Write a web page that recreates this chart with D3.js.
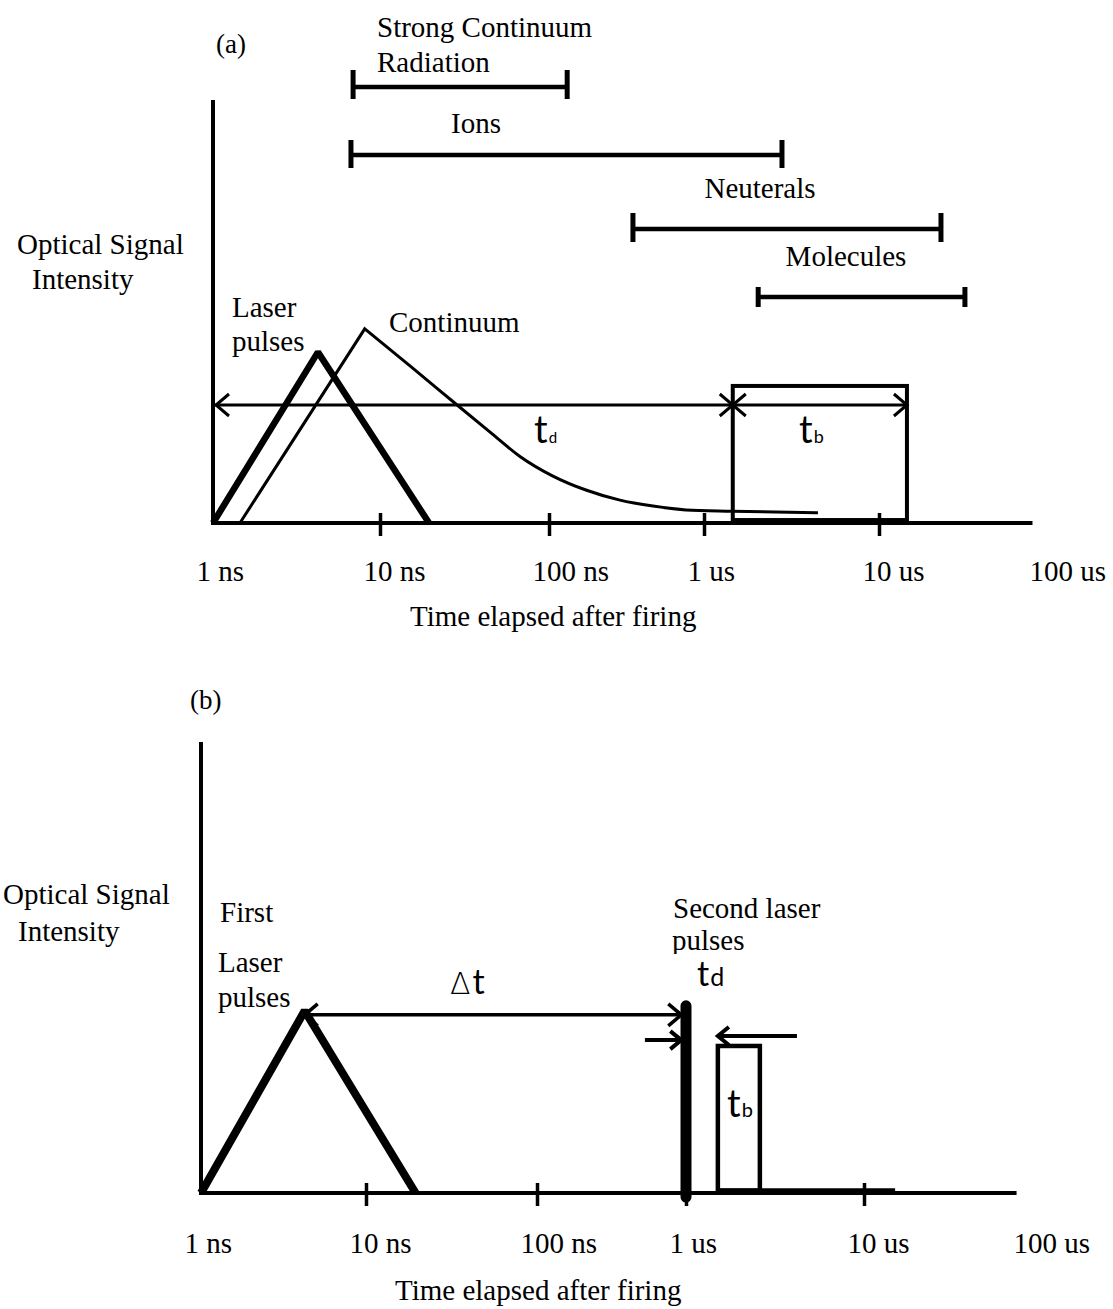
<!DOCTYPE html>
<html>
<head>
<meta charset="utf-8">
<script src="https://cdn.jsdelivr.net/npm/d3@7"></script>
<style>
  html, body { margin: 0; padding: 0; background: #fff; }
  svg { display: block; }
  text { font-family: "Liberation Serif", "Times New Roman", serif; fill: #000; }
  .sym { font-family: Lato, "Open Sans", sans-serif; }
</style>
</head>
<body>
<svg id="chart" width="1113" height="1309"></svg>
<script>
// Times are in nanoseconds; signal levels are relative (0 = baseline, 100 = top of the intensity axis).
const tickTimes = [1, 10, 100, 1000, 10000, 100000];
const tickLabels = ["1 ns", "10 ns", "100 ns", "1 us", "10 us", "100 us"];
const markedTicks = [10, 100, 1000, 10000];
const axisEndTime = 83000;

// First laser pulse (triangle) – shared by both panels
const laserTime = [1, 4.25, 19.5];
const laserLevel = [0, 40.4, 0];

// Continuum emission: fast rise, long decaying tail
const continuumTime = [1.45, 8.1, 15.3, 28.6, 44.8, 67, 106, 173, 287, 469, 765, 1445, 4480];
const continuumLevel = [0, 45.9, 36.9, 27.9, 21.5, 15.8, 11.1, 7.8, 5.4, 4.0, 3.1, 2.8, 2.4];

// Emission regimes (start / end time)
const regimeNames = [["Strong Continuum", "Radiation"], ["Ions"], ["Neuterals"], ["Molecules"]];
const regimeStart = [6.9, 6.7, 348, 2040];
const regimeEnd = [131, 2790, 23500, 32700];

// Panel (a): delay td and gate tb
const delayA = [1, 1460];
const gateA = [1460, 14700];
const gateLevelA = 32.4;
const arrowLevelA = 27.9;

// Panel (b): double-pulse scheme
const deltaT = [4.25, 930];
const deltaLevel = 39.5;
const secondPulseTime = 1000;
const secondPulseLevel = 41.5;
const tdInArrow = [530, 930];
const tdInLevel = 33.9;
const tdOutArrow = [4200, 1510];
const tdOutLevel = 34.8;
const gateB = [1510, 2600];
const gateLevelB = 32.6;
const residualB = [1510, 15400];

const svg = d3.select("#chart");
const INK = "#000";
const FS = 29;

function chevron(g, x, y, dir, w = 3, len = 13, half = 11) {
  g.append("path")
    .attr("d", `M${x - dir * len},${y - half}L${x},${y}L${x - dir * len},${y + half}`)
    .attr("fill", "none").attr("stroke", INK).attr("stroke-width", w);
}

function label(g, x, y, txt, size = FS, anchor = "start") {
  return g.append("text").attr("x", x).attr("y", y)
    .attr("font-size", size).attr("text-anchor", anchor).text(txt);
}

// "t" with a small subscript letter
function tLabel(g, x, y, sub, tSize, subSize) {
  const t = g.append("text").attr("class", "sym").attr("x", x).attr("y", y);
  t.append("tspan").attr("font-size", tSize).text("t");
  t.append("tspan").attr("font-size", subSize).attr("dx", 1).text(sub);
  return t;
}

function drawTimeAxis(g, x, y, axisY, labelPad, titleX, titleY) {
  // baseline
  g.append("line")
    .attr("x1", x(1)).attr("x2", x(axisEndTime))
    .attr("y1", axisY).attr("y2", axisY)
    .attr("stroke", INK).attr("stroke-width", 4);
  // intensity axis
  g.append("line")
    .attr("x1", x(1)).attr("x2", x(1))
    .attr("y1", y(0) + 2).attr("y2", y(100))
    .attr("stroke", INK).attr("stroke-width", 4);

  // tick marks
  const ticks = g.append("g").attr("transform", `translate(0,${axisY})`)
    .call(d3.axisBottom(x).tickValues(markedTicks).tickSize(13).tickFormat(""));
  ticks.select(".domain").remove();
  ticks.selectAll(".tick line").attr("y1", -10).attr("stroke", INK).attr("stroke-width", 3.5);

  // tick labels
  const labs = g.append("g").attr("transform", `translate(0,${axisY})`)
    .call(d3.axisBottom(x).tickValues(tickTimes).tickSize(0).tickPadding(labelPad)
      .tickFormat((d, i) => tickLabels[i]));
  labs.select(".domain").remove();
  labs.attr("font-family", null).attr("font-size", FS);
  labs.selectAll(".tick text").attr("text-anchor", "start").attr("dx", -17).attr("fill", INK);

  label(g, titleX, titleY, "Time elapsed after firing");
}

/* ---------------- Panel (a) ---------------- */
const gA = svg.append("g");
const xA = d3.scaleLog().domain(tickTimes).range([213, 380, 549, 704, 879, 1046]);
const yA = d3.scaleLinear().domain([0, 100]).range([523, 100]);
const lineA = d3.line().x(d => xA(d[0])).y(d => yA(d[1]));

drawTimeAxis(gA, xA, yA, yA(0), 37, 410, 626);

label(gA, 216, 53, "(a)", 27);
label(gA, 17, 254, "Optical Signal");
label(gA, 32, 289, "Intensity");

// emission regime bars
const regimeRows = [
  { y: 87, up: 17, down: 12, lx: 377, ly: 37, anchor: "start" },
  { y: 155, up: 15, down: 13, lx: 476, ly: 133, anchor: "middle" },
  { y: 229, up: 16, down: 13, lx: 760, ly: 198, anchor: "middle" },
  { y: 297, up: 10, down: 10, lx: 846, ly: 266, anchor: "middle" }
];
regimeNames.forEach((name, i) => {
  const r = regimeRows[i];
  const x0 = xA(regimeStart[i]), x1 = xA(regimeEnd[i]);
  gA.append("line").attr("x1", x0).attr("x2", x1).attr("y1", r.y).attr("y2", r.y)
    .attr("stroke", INK).attr("stroke-width", 4.5);
  [x0, x1].forEach(cx => {
    gA.append("line").attr("x1", cx).attr("x2", cx).attr("y1", r.y - r.up).attr("y2", r.y + r.down)
      .attr("stroke", INK).attr("stroke-width", 5);
  });
  name.forEach((part, k) => label(gA, r.lx, r.ly + k * 35, part, FS, r.anchor));
});

// continuum: straight rise, smooth decay
const contPts = d3.zip(continuumTime, continuumLevel);
const peakIdx = d3.maxIndex(continuumLevel);
const riseStr = lineA(contPts.slice(0, peakIdx + 1));
const decayStr = lineA.curve(d3.curveMonotoneX)(contPts.slice(peakIdx));
lineA.curve(d3.curveLinear);
gA.append("path").attr("d", riseStr + decayStr.replace(/^M/, "L"))
  .attr("fill", "none").attr("stroke", INK).attr("stroke-width", 3);

// laser pulse
gA.append("path").attr("d", lineA(d3.zip(laserTime, laserLevel)))
  .attr("fill", "none").attr("stroke", INK).attr("stroke-width", 6.5).attr("stroke-linejoin", "bevel");

label(gA, 232, 317, "Laser");
label(gA, 232, 351, "pulses");
label(gA, 389, 332, "Continuum");

// gate box
gA.append("rect")
  .attr("x", xA(gateA[0])).attr("y", yA(gateLevelA))
  .attr("width", xA(gateA[1]) - xA(gateA[0])).attr("height", yA(0.7) - yA(gateLevelA))
  .attr("fill", "none").attr("stroke", INK).attr("stroke-width", 4);

// td and tb arrows
const ay = yA(arrowLevelA);
gA.append("line").attr("x1", xA(delayA[0]) + 2).attr("x2", xA(delayA[1])).attr("y1", ay).attr("y2", ay)
  .attr("stroke", INK).attr("stroke-width", 3);
gA.append("line").attr("x1", xA(gateA[0])).attr("x2", xA(gateA[1])).attr("y1", ay).attr("y2", ay)
  .attr("stroke", INK).attr("stroke-width", 3);
chevron(gA, xA(delayA[0]) + 3, ay, -1);
chevron(gA, xA(delayA[1]), ay, 1);
chevron(gA, xA(gateA[0]), ay, -1);
chevron(gA, xA(gateA[1]), ay, 1);
tLabel(gA, 534, 443, "d", 38, 15);
tLabel(gA, 799, 443, "b", 38, 18);

/* ---------------- Panel (b) ---------------- */
const gB = svg.append("g");
const xB = d3.scaleLog().domain(tickTimes).range([201, 366, 537, 686, 864, 1030]);
const yB = d3.scaleLinear().domain([0, 100]).range([1193, 742]);
const lineB = d3.line().x(d => xB(d[0])).y(d => yB(d[1]));

drawTimeAxis(gB, xB, yB, yB(0), 39, 395, 1300);

label(gB, 190, 709, "(b)", 27);
label(gB, 3, 904, "Optical Signal");
label(gB, 18, 941, "Intensity");

// first laser pulse
gB.append("path").attr("d", lineB(d3.zip(laserTime, laserLevel)))
  .attr("fill", "none").attr("stroke", INK).attr("stroke-width", 8).attr("stroke-linejoin", "bevel");

label(gB, 220, 922, "First");
label(gB, 218, 972, "Laser");
label(gB, 218, 1007, "pulses");

// delay between pulses
const dy = yB(deltaLevel);
gB.append("line").attr("x1", xB(deltaT[0])).attr("x2", xB(deltaT[1])).attr("y1", dy).attr("y2", dy)
  .attr("stroke", INK).attr("stroke-width", 3.5);
chevron(gB, xB(deltaT[0]), dy, -1, 3.5);
chevron(gB, xB(deltaT[1]), dy, 1, 3.5);
const dl = gB.append("text").attr("x", 450).attr("y", 994);
dl.append("tspan").attr("font-size", 30).attr("font-family", "DejaVu Sans").attr("font-weight", 200)
  .attr("transform", "scale(0.8,1)").text("Δ");
dl.append("tspan").attr("class", "sym").attr("font-size", 34).attr("dx", 2).text("t");

// gate residual on the baseline
gB.append("line").attr("x1", xB(residualB[0])).attr("x2", xB(residualB[1]))
  .attr("y1", yB(0.5)).attr("y2", yB(0.5)).attr("stroke", INK).attr("stroke-width", 5);

// gate box
gB.append("rect")
  .attr("x", xB(gateB[0])).attr("y", yB(gateLevelB))
  .attr("width", xB(gateB[1]) - xB(gateB[0])).attr("height", yB(0.5) - yB(gateLevelB))
  .attr("fill", "none").attr("stroke", INK).attr("stroke-width", 4.5);

// second laser pulse
gB.append("line").attr("x1", xB(secondPulseTime)).attr("x2", xB(secondPulseTime))
  .attr("y1", yB(0) + 4).attr("y2", yB(secondPulseLevel))
  .attr("stroke", INK).attr("stroke-width", 11).attr("stroke-linecap", "round");

// td arrows around the second pulse
const ty1 = yB(tdInLevel), ty2 = yB(tdOutLevel);
gB.append("line").attr("x1", xB(tdInArrow[0])).attr("x2", xB(tdInArrow[1])).attr("y1", ty1).attr("y2", ty1)
  .attr("stroke", INK).attr("stroke-width", 4);
chevron(gB, xB(tdInArrow[1]), ty1, 1, 4, 11, 9);
gB.append("line").attr("x1", xB(tdOutArrow[0])).attr("x2", xB(tdOutArrow[1])).attr("y1", ty2).attr("y2", ty2)
  .attr("stroke", INK).attr("stroke-width", 4);
chevron(gB, xB(tdOutArrow[1]), ty2, -1, 4, 11, 9);

label(gB, 673, 918, "Second laser");
label(gB, 672, 950, "pulses");
gB.append("rect").attr("x", 666).attr("y", 954).attr("width", 84).attr("height", 32).attr("fill", "#fff");
tLabel(gB, 697, 986, "d", 34, 25);
tLabel(gB, 727, 1117, "b", 38, 20);
</script>
</body>
</html>
